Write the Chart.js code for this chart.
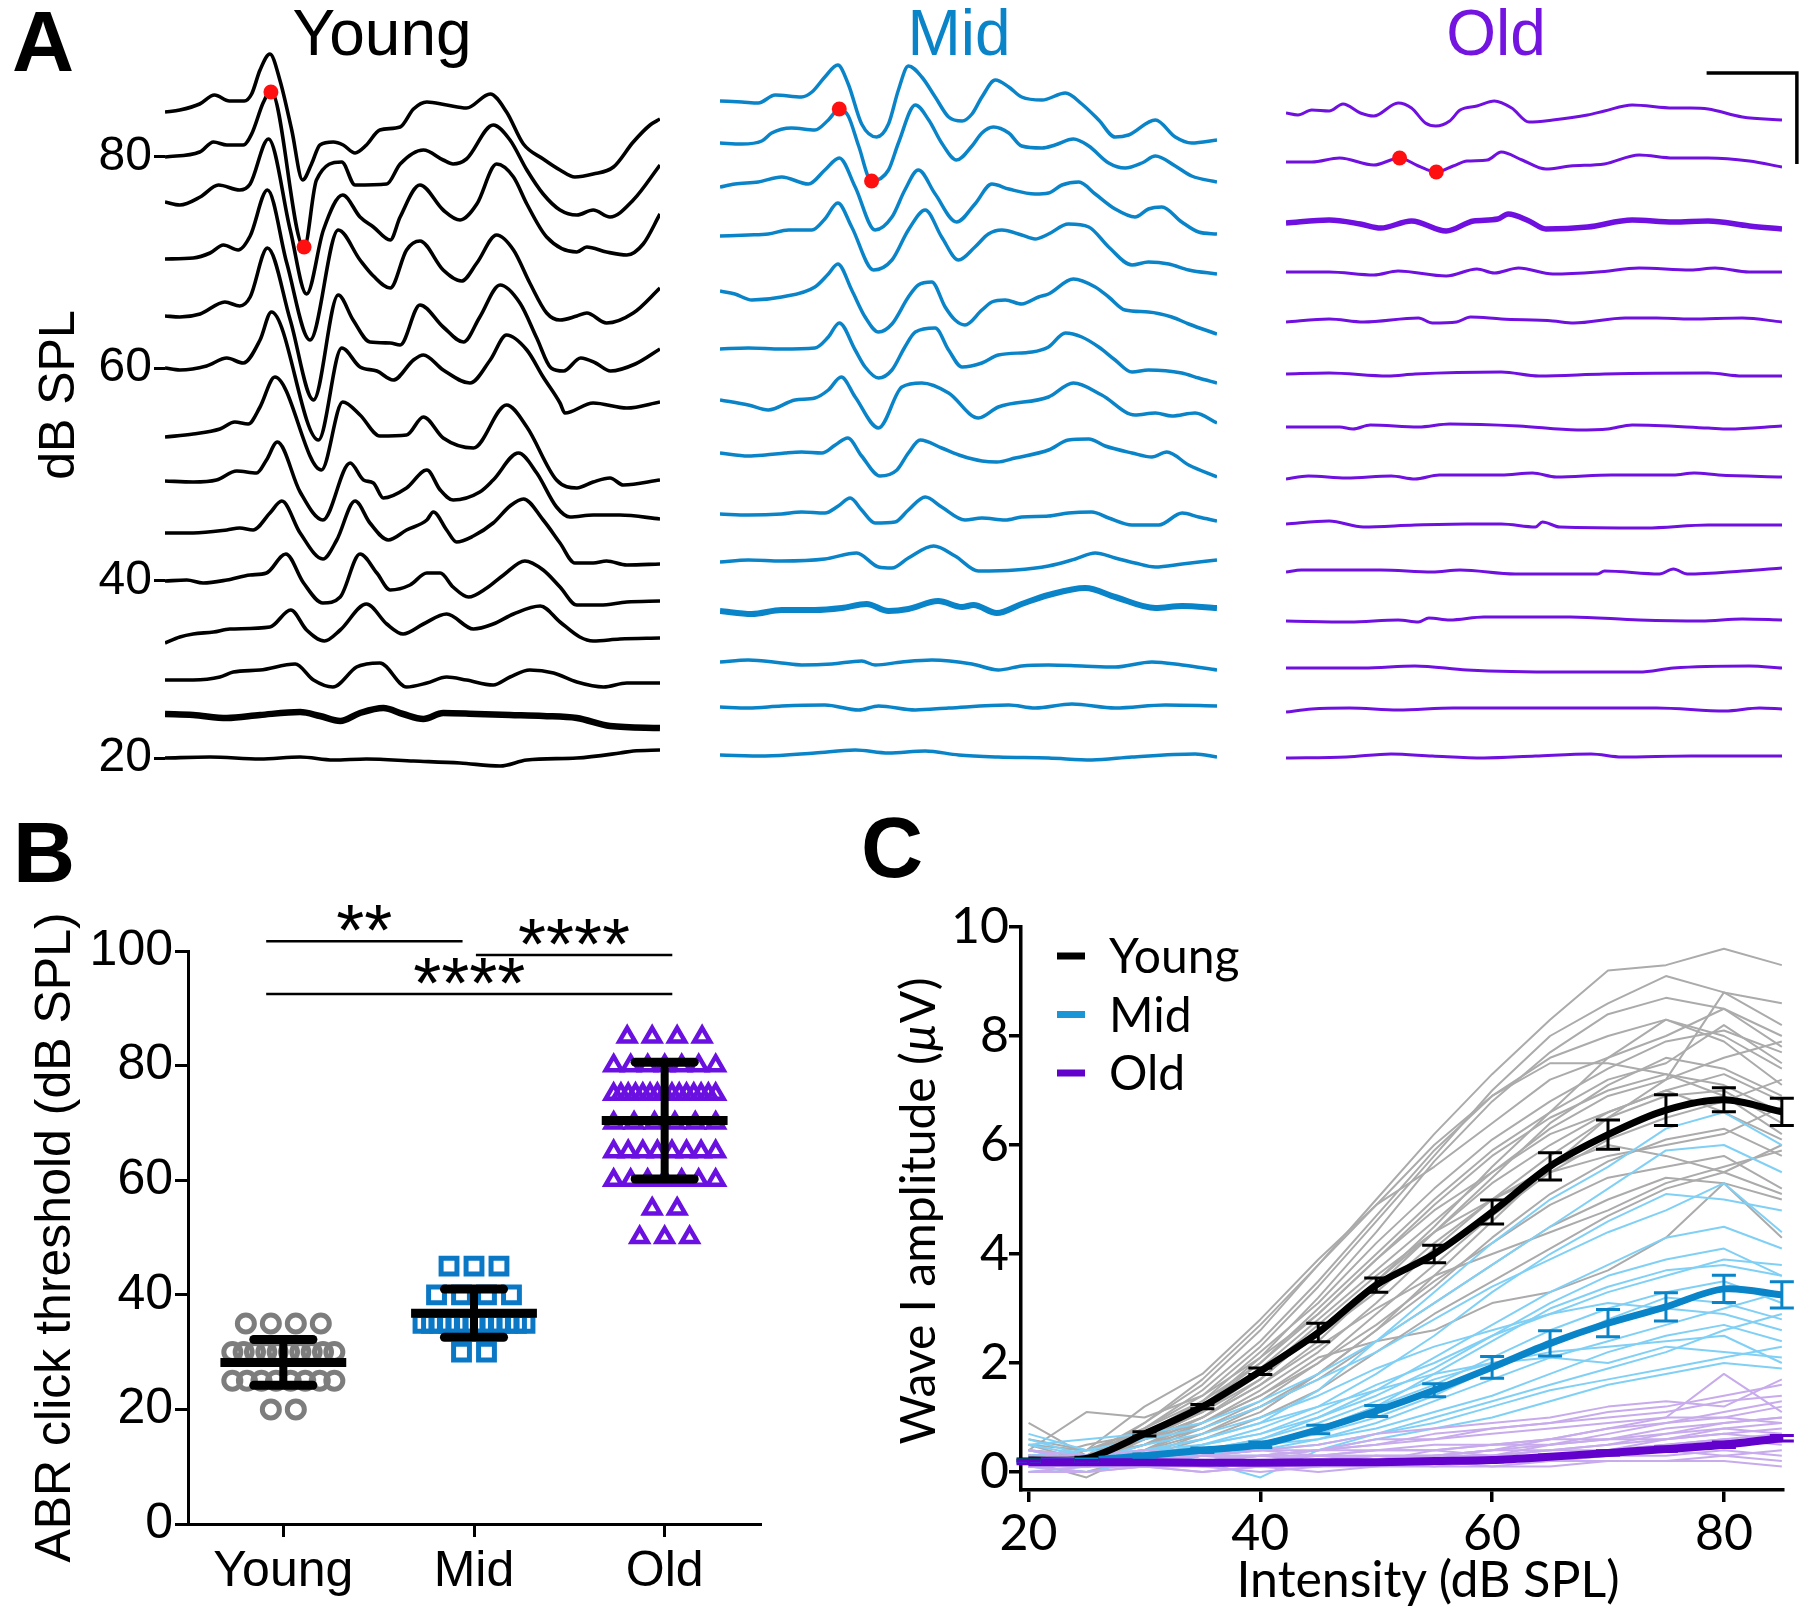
<!DOCTYPE html>
<html>
<head>
<meta charset="utf-8">
<script src="https://cdn.jsdelivr.net/npm/chart.js@4.4.1/dist/chart.umd.min.js"></script>
<style>
  body { margin:0; background:#fff; width:1800px; height:1616px; position:relative; overflow:hidden;
         font-family:'Liberation Sans', Arial, sans-serif; }
  canvas { position:absolute; }
  .lbl { position:absolute; white-space:nowrap; line-height:1; }
  .panel { font-weight:bold; font-size:86px; }
  .ttl { font-size:64px; width:300px; text-align:center; }
  .cfont { font-family:Lato, 'Open Sans', sans-serif; }
</style>
</head>
<body>
<canvas id="young" width="670" height="790" style="left:0;top:0"></canvas>
<canvas id="mid" width="530" height="790" style="left:700px;top:0"></canvas>
<canvas id="old" width="530" height="790" style="left:1270px;top:0"></canvas>
<canvas id="thr" width="800" height="816" style="left:0;top:800px"></canvas>
<canvas id="amp" width="960" height="816" style="left:840px;top:800px"></canvas>

<div class="lbl panel" style="left:12px;top:-2px">A</div>
<div class="lbl panel" style="left:13px;top:809px">B</div>
<div class="lbl panel" style="left:861px;top:804px">C</div>
<div class="lbl ttl" style="left:232px;top:1px;color:#000">Young</div>
<div class="lbl ttl" style="left:809px;top:1px;color:#0a84c8">Mid</div>
<div class="lbl ttl" style="left:1346px;top:1px;color:#7414e0">Old</div>
<div class="lbl cfont" style="left:1128px;top:1553px;width:600px;text-align:center;font-size:50px">Intensity (dB SPL)</div>
<div class="lbl cfont" style="left:617px;top:1183px;width:600px;height:56px;line-height:56px;text-align:center;font-size:48px;transform:rotate(-90deg)">Wave I amplitude (<i>µ</i>V)</div>

<script>
// ===== PANEL A : ABR WAVEFORMS =====
const levels = [85, 80, 75, 70, 65, 60, 55, 50, 45, 40, 35, 30, 25, 20];
const tickLevels = [80, 60, 40, 20];
const thresholds = {young: 25, mid: 35, old: 75};

// stack offset of each trace (baseline of the sweep)
const youngOffsets = [112, 157, 202, 259, 316, 368, 437, 481, 533, 581, 643, 680, 714, 758];
const midOffsets   = [101, 143, 187, 236, 291, 349, 400, 453, 514, 562, 611, 662, 707, 755];
const oldOffsets   = [113, 162, 223, 272, 322, 374, 427, 479, 524, 572, 621, 668, 712, 758];

// traces: [time (% of sweep), amplitude (a.u.)], one per level
const youngTraces = [
  [[0,0],[3,2],[7,8],[10,17],[13,11],[16,11],[17.5,18],[19.2,42],[21.2,58],[23.2,32],[25.6,-18],[27.8,-68],[29.6,-52],[31.3,-33],[34,-30],[36,-33],[38.4,-41],[40.7,-33],[43.4,-18],[47.5,-15],[50.2,3],[52.9,10],[56.9,7],[60.9,4],[65.7,18],[69,0],[72.4,-32],[76.4,-47],[79.8,-58],[82.8,-65],[86.5,-62],[90.6,-55],[94.6,-30],[98,-13],[100,-7]],
  [[0,0],[7,5],[9.8,15],[12.5,12],[15.8,12],[17.5,23],[19.9,55],[21.4,66],[28.1,-91],[30.6,-23],[35.7,-5],[38.4,-28],[44.8,-27],[47.5,-7],[52.2,7],[56.2,-3],[58.2,-7],[60.9,-2],[66.3,32],[69.7,17],[73.1,-13],[76.4,-37],[79.8,-53],[83.2,-58],[86.5,-53],[89.9,-60],[94.6,-43],[100,-8]],
  [[0,0],[3,-3],[7.1,5],[10.8,17],[15.1,12],[17.2,18],[20.9,63],[25.3,-28],[28.6,-92],[32,-28],[35.9,7],[39.4,-15],[42.1,-25],[45.5,-38],[47.5,-15],[51.5,17],[56.2,-8],[59.6,-18],[63,-2],[67,38],[70.4,25],[73.1,-2],[77.1,-35],[83.2,-50],[85.2,-45],[89.2,-50],[93.3,-53],[96.6,-42],[100,-12]],
  [[0,0],[5.7,1],[9.1,6],[11.8,14],[14.8,9],[17.2,23],[20.7,69],[24.6,-4],[29.3,-81],[35,29],[39.4,-1],[42.1,-17],[45.5,-29],[48.8,9],[51.5,18],[56.2,-11],[59.9,-22],[63,-4],[67,24],[70.4,9],[73.7,-24],[77.1,-54],[79.8,-61],[83.2,-57],[85.2,-54],[89.2,-64],[94.6,-54],[100,-29]],
  [[0,0],[3,-1],[7.1,2],[12.1,14],[15.1,10],[17.2,19],[20.7,68],[25.3,-4],[30,-84],[35,21],[38,-4],[41.4,-26],[45.5,-27],[47.5,-29],[51.5,11],[56.2,-11],[60.3,-26],[63.6,-1],[67.7,31],[71.7,13],[75.1,-22],[78,-52],[80.5,-55],[84,-42],[87,-47],[90,-55],[95,-48],[100,-33]],
  [[0,0],[3,-2],[8.4,2],[12.5,10],[15.8,5],[19.2,28],[21.5,56],[31,-72],[35.7,20],[39.4,1],[42.8,-3],[46.1,-12],[50.2,8],[52.2,13],[56.2,-2],[61.6,-15],[65.7,8],[69,33],[73.1,18],[76.4,-9],[79.8,-35],[80.8,-45],[86.5,-35],[93.3,-40],[100,-34]],
  [[0,0],[5.7,3],[11.1,8],[14.1,15],[16.8,13],[19.2,30],[22.2,60],[31.6,-33],[35.9,35],[39.4,22],[43.4,1],[48.8,2],[52.2,20],[56.2,-1],[62.3,-11],[69,32],[73.1,10],[79.1,-43],[83.2,-51],[86.5,-45],[89.9,-41],[92.6,-48],[100,-43]],
  [[0,0],[5.7,-1],[10.4,1],[14.5,10],[18.5,8],[20.5,21],[22.7,39],[27.3,-11],[31.9,-39],[37.4,18],[40.1,1],[42.1,-2],[44.1,-17],[48.8,-7],[52.9,11],[55.6,-9],[58.2,-19],[63.6,-11],[66.3,1],[71.4,28],[75.1,8],[79.1,-26],[81.8,-36],[86.5,-34],[91.9,-34],[100,-38]],
  [[0,0],[5.7,0],[12.5,3],[15.1,5],[17.8,3],[21.2,20],[23.6,32],[27.3,0],[31.9,-26],[34.7,-7],[38.4,32],[41.4,10],[45.1,-7],[48.8,3],[52.9,13],[54.2,21],[56.9,3],[58.9,-9],[62.3,-3],[66.3,10],[69.7,27],[72.4,34],[76.4,13],[79.8,-10],[82.8,-30],[86.5,-30],[89.2,-28],[93.3,-32],[100,-31]],
  [[0,0],[4.4,1],[7.7,-2],[12.5,1],[17.2,6],[20.5,8],[24.4,27],[28,-2],[31.9,-22],[35.4,-16],[39.4,27],[42.8,8],[45.5,-9],[49.5,-4],[52.9,8],[55.6,8],[58.2,-6],[61.3,-16],[65,-7],[68.4,6],[72.7,20],[76.4,11],[79.8,-6],[83.2,-24],[87.9,-24],[93.3,-21],[100,-20]],
  [[0,0],[3,6],[5.7,9],[9.8,11],[13.1,14],[21.2,16],[25.4,33],[28.6,13],[32.2,2],[35.4,13],[40.7,39],[44.8,19],[48.1,9],[52.2,19],[56.9,29],[62.3,14],[66.3,19],[70.4,29],[75.8,37],[79.8,21],[83.8,6],[86.5,2],[91.9,4],[100,5]],
  [[0,0],[5.7,0],[11.1,3],[13.8,8],[19.2,10],[26.3,16],[30,0],[33.9,-7],[38.7,13],[40.7,16],[43.4,17],[48.8,-7],[52.9,-3],[56.9,3],[60.9,0],[66.3,-5],[69.7,3],[73.7,10],[78.5,7],[83.2,-2],[88.6,-7],[93.3,-3],[100,-3]],
  [[0,0],[5.7,-1],[12.5,-4],[19.2,-1],[27.3,2],[31.3,-2],[35.4,-7],[39.4,1],[44.1,6],[48.1,0],[52.2,-5],[56.2,1],[63,0],[69.7,-1],[76.4,-2],[83.2,-4],[89.9,-12],[100,-14]],
  [[0,0],[9.1,1],[19.2,-1],[27.3,1],[34,-2],[40.7,-1],[50.2,-3],[59.6,-5],[67.7,-8],[73.1,-2],[83.2,0],[91.9,5],[94.6,7],[100,8]]
];
const midTraces = [
  [[0,0],[4.4,-1],[7.7,-2],[11.1,6],[16.4,4],[18.5,9],[21.1,24],[23.7,36],[25.8,17],[28.5,-23],[31.5,-36],[33.9,-23],[35.9,11],[37.9,35],[40.6,24],[43.3,4],[46,-16],[48.7,-20],[50.7,-13],[52.7,4],[55.4,21],[58.1,14],[60.7,4],[64.8,1],[69.5,8],[72.8,-3],[76.2,-19],[79.5,-36],[82.2,-34],[87.6,-19],[91.6,-36],[94.9,-42],[100,-39]],
  [[0,0],[4.4,-1],[8.4,2],[10.4,10],[14.4,15],[19.1,13],[21.8,23],[24,34],[25.8,27],[27.9,-3],[30.5,-38],[33.9,-27],[35.9,0],[39.3,38],[42,23],[44.6,0],[47.6,-17],[50.7,-3],[52.7,10],[55,16],[58.1,10],[60.7,-3],[64.8,-5],[67.4,-2],[71.1,4],[74.2,-3],[78.2,-20],[81.5,-25],[84.9,-20],[87.6,-13],[91.6,-23],[94.9,-33],[100,-39]],
  [[0,0],[3,3],[7.7,5],[12.4,10],[17.8,3],[21.1,17],[24,29],[27.2,0],[31.2,-43],[34.6,-30],[37.2,-3],[39.9,17],[43.3,-7],[47.6,-35],[51.3,-17],[54.7,3],[58.1,-2],[63.4,-7],[66.1,-6],[68.8,2],[72.2,5],[75.5,-7],[79.5,-22],[83.5,-30],[86.2,-22],[88.9,-20],[92.9,-35],[96.3,-45],[100,-47]],
  [[0,0],[5.7,1],[9.7,2],[13.8,6],[18.5,6],[21.1,17],[23.7,33],[26.5,9],[30.9,-34],[34.6,-24],[37.9,6],[41.3,26],[44.6,-1],[48,-24],[51.3,-11],[54,2],[56.7,6],[60.7,1],[63.4,-3],[66.1,2],[70.1,12],[74.2,9],[78.2,-11],[82.9,-29],[86.2,-26],[90.3,-28],[94.3,-34],[100,-38]],
  [[0,0],[3,-3],[6.4,-9],[12.4,-6],[19.1,4],[21.8,17],[23.7,27],[26.5,1],[29.2,-26],[31.9,-41],[34.6,-33],[37.9,-6],[39.9,6],[42.6,9],[45.3,-16],[47.3,-29],[49.3,-34],[52.7,-19],[54.7,-11],[57.4,-9],[60.7,-13],[64.1,-6],[66.1,-3],[71.1,12],[75.5,4],[78.2,-6],[81.5,-19],[86.2,-21],[90.9,-26],[94.3,-33],[100,-43]],
  [[0,0],[5.7,1],[12.4,0],[19.1,1],[21.8,12],[24,26],[27.2,-1],[29.2,-18],[31.9,-29],[34.6,-21],[37.2,2],[39.3,17],[43.3,21],[46,-1],[48.7,-18],[52.7,-14],[56,-6],[62.8,-3],[66.1,2],[69.5,16],[72.8,12],[76.2,2],[79.5,-11],[82.9,-23],[86.2,-21],[92.9,-24],[96.3,-29],[100,-34]],
  [[0,0],[5.7,-5],[9.7,-10],[15.1,0],[19.1,2],[21.8,10],[24.4,23],[27.2,3],[31.9,-28],[36.6,13],[40.6,17],[46,7],[52,-18],[56,-7],[66.1,3],[71.1,17],[76.8,5],[83.5,-15],[87.6,-13],[90.9,-16],[95.6,-13],[100,-23]],
  [[0,0],[5.7,-3],[9.1,-2],[13.1,0],[16.4,1],[20.5,0],[23.2,8],[25.7,15],[28.5,-3],[32.2,-23],[35.6,-17],[37.9,0],[40.3,13],[44.6,5],[48.7,-3],[52.7,-8],[55.7,-9],[59.4,-5],[66.1,3],[70.1,13],[74.2,14],[77.5,7],[82.9,0],[86.9,-4],[89.9,1],[94.3,-12],[100,-24]],
  [[0,0],[5.7,-1],[12.4,0],[16.4,2],[21.1,1],[23.8,8],[26.2,16],[28.5,4],[31.2,-9],[35.2,-8],[37.9,4],[41.3,17],[44.6,7],[49.3,-6],[52.7,-4],[57.4,-6],[60.7,-3],[66.1,-2],[70.1,1],[74.8,2],[78.2,-4],[82.9,-11],[88.3,-11],[93,1],[96.3,-3],[100,-7]],
  [[0,0],[5.7,2],[12.4,1],[21.1,3],[27.5,9],[31.9,-5],[34.6,-6],[37.9,4],[43,16],[47.3,6],[52,-9],[59.4,-8],[66.1,-4],[71.5,3],[75.5,9],[79.5,4],[83.5,-1],[87.6,-5],[93,-2],[100,2]],
  [[0,0],[6.4,-3],[12.4,1],[19.1,1],[24.5,3],[29.5,7],[33.9,0],[37.9,2],[43.9,10],[48.7,4],[51,6],[55.7,-2],[60.7,7],[66.1,16],[73.5,23],[79.5,14],[87.6,3],[93,5],[100,3]],
  [[0,0],[5.7,2],[12.4,-1],[16.4,-3],[22.5,-2],[28.5,1],[31.2,-3],[36.6,0],[42.6,2],[50.7,-2],[56,-8],[60.7,-4],[66.1,-3],[72.8,-4],[79.5,-5],[86.9,0],[93,-3],[100,-8]],
  [[0,0],[5.7,-1],[12.4,1],[21.1,2],[27.9,-3],[31.9,1],[39.3,-3],[46,-1],[58.1,2],[63.4,-1],[70.8,3],[79.5,-1],[89.6,2],[100,1]],
  [[0,0],[9.1,-1],[19.1,2],[27.2,5],[33.9,2],[41.3,4],[48,0],[56,-2],[66.1,-3],[74.8,-5],[82.9,-2],[95.6,1],[100,-2]]
];
const oldTraces = [
  [[0,0],[2.4,-2],[5.2,3],[8.7,2],[11.5,9],[15,0],[17.7,-3],[22.6,10],[25.3,5],[28.1,-10],[30.2,-13],[33,-8],[35.1,3],[38.5,7],[42,12],[45.5,5],[49,-9],[53.8,-7],[60.8,-2],[64.2,2],[69.8,8],[78.1,5],[81.6,5],[85.1,4],[92,-4],[100,-7]],
  [[0,0],[5.2,0],[10.8,4],[17.7,-3],[22.9,4],[26.7,-4],[30.3,-10],[33.7,-4],[36.5,1],[40.6,2],[43.4,10],[47.6,2],[52.4,-7],[57.3,-4],[64.2,-2],[71.2,7],[78.1,4],[85.1,4],[93.4,1],[100,-5]],
  [[0,0],[8.7,3],[15,-1],[19.1,-5],[25.3,2],[32.3,-8],[37.8,2],[42.7,4],[44.8,9],[49,2],[52.4,-6],[60.8,-4],[69.8,3],[78.1,1],[85.1,2],[93.4,-3],[100,-6]],
  [[0,0],[8.7,0],[17.7,-3],[22.6,1],[32.3,-4],[38.5,3],[42,-1],[46.9,4],[53.8,-2],[62.8,0],[71.2,4],[81.6,2],[86.5,4],[93.4,0],[100,0]],
  [[0,0],[8.7,3],[15.6,0],[26.7,4],[29.5,-1],[34.4,0],[37.2,5],[43.4,3],[53.8,1],[58,-1],[68.4,4],[74.7,4],[81.6,3],[92,4],[100,0]],
  [[0,0],[8.7,1],[20.5,-2],[26,0],[43.4,2],[51,-2],[64.2,0],[85.1,1],[92,-2],[100,-2]],
  [[0,0],[10.8,0],[13.5,-2],[17,2],[26.7,0],[33,3],[46.9,1],[58.7,-3],[64.9,-2],[69.8,2],[85.1,-1],[89.2,-2],[100,1]],
  [[0,0],[4.5,3],[12.2,1],[21.2,3],[26,0],[30.9,4],[43.4,4],[49.7,6],[54.5,2],[65.6,4],[78.1,4],[82.3,6],[87.2,4],[100,2]],
  [[0,0],[8.7,3],[15.6,-3],[26,-1],[36.5,0],[43.4,0],[50.3,-3],[51.7,2],[55.2,-3],[72.6,-4],[85.1,-1],[100,-1]],
  [[0,0],[3.1,2],[19.1,2],[29.5,0],[35.1,2],[46.2,-2],[62.8,-2],[64.2,1],[75.3,-2],[78.1,3],[80.9,-2],[92,1],[100,4]],
  [[0,0],[12.8,-1],[22.6,1],[26.7,-1],[28.8,3],[33,1],[39.9,4],[57.3,4],[71.2,1],[83.7,0],[92,2],[100,1]],
  [[0,0],[15.6,0],[26,2],[36.5,-2],[55.9,-4],[71.2,-4],[78.1,0],[93.4,2],[100,0]],
  [[0,0],[5.2,3],[12.8,4],[22.6,2],[33.7,4],[43.4,4],[64.2,4],[74.7,4],[88.5,1],[95.5,4],[100,3]],
  [[0,0],[12.2,1],[21.2,4],[29.5,2],[39.9,0],[50.3,2],[61.5,4],[67.7,1],[81.6,2],[100,2]]
];
// wave I peak / trough picks on the 80 dB trace
const youngMarks = [[21.4,65],[28.1,-90]];
const midMarks   = [[24,34],[30.5,-38]];
const oldMarks   = [[22.9,4],[30.3,-10]];
// scale bar (time %, stack units), vertical arm first
const scaleBar = [[103,-164],[103,-73],[84.8,-73]];

// ===== PANEL B : THRESHOLDS =====
const groups = ['Young', 'Mid', 'Old'];
const youngThr = [35,35,35,35, 30,30,30,30,30,30,30,30,30,30, 25,25,25,25,25,25,25,25, 20,20];
const midThr = [45,45,45, 40,40,40,40, 35,35,35,35,35,35,35,35,35,35,35,35,35, 30,30];
const oldThr = [85,85,85,85, 80,80,80,80,80,80,80, 75,75,75,75,75,75,75,75,75,75,75,75,75,75,75,
                70,70,70,70,70,70, 65,65,65,65,65,65,65,65, 60,60,60,60,60,60,60, 55,55, 50,50,50];
const thrMean = [28.2, 36.8, 70.4];
const thrSD = [4.0, 4.2, 10.2];
const sigFrom = [0.91, 2.01, 0.91];
const sigTo = [1.94, 3.04, 3.04];
const sigLevel = [101.7, 99.3, 92.5];
const sigText = ['**', '****', '****'];

// ===== PANEL C : WAVE I AMPLITUDE =====
const intensities = [20,25,30,35,40,45,50,55,60,65,70,75,80,85];
const youngMean = [0.22,0.25,0.70,1.20,1.85,2.56,3.43,4.00,4.77,5.61,6.19,6.64,6.83,6.61];
const youngSem  = [0.02,0.02,0.04,0.04,0.06,0.17,0.13,0.16,0.22,0.25,0.27,0.28,0.22,0.25];
const midMean = [0.20,0.22,0.30,0.40,0.50,0.78,1.12,1.50,1.92,2.36,2.73,3.03,3.36,3.25];
const midSem  = [0.02,0.02,0.03,0.04,0.05,0.08,0.10,0.12,0.20,0.23,0.25,0.26,0.25,0.24];
const oldMean = [0.18,0.18,0.18,0.17,0.17,0.18,0.18,0.20,0.22,0.28,0.35,0.42,0.50,0.62];
const oldSem  = [0.03,0.03,0.03,0.03,0.03,0.03,0.03,0.03,0.03,0.03,0.04,0.04,0.05,0.05];
const youngIndiv = [
  [0.2,0.3,0.9,1.6,2.6,3.8,5.0,6.2,7.3,8.3,9.2,9.3,9.6,9.3],
  [0.3,0.2,0.8,1.4,2.3,3.4,4.6,5.8,7.0,8.0,8.6,9.1,8.8,8.2],
  [0.5,0.4,1.2,1.8,2.8,3.9,4.9,5.6,6.4,7.2,7.6,8.0,8.5,7.8],
  [0.2,0.1,0.7,1.3,2.0,3.0,4.0,5.0,5.9,6.6,7.2,7.5,8.2,7.5],
  [0.9,0.3,0.6,1.1,1.9,2.8,3.7,4.6,5.5,6.3,6.9,7.2,7.6,7.9],
  [0.1,0.2,0.5,1.0,1.7,2.6,3.5,4.4,5.3,6.0,6.6,7.0,7.3,6.8],
  [0.4,1.1,1.0,1.4,2.1,2.9,3.9,4.8,5.5,6.2,6.6,7.0,6.6,6.1],
  [0.2,0.3,0.6,0.9,1.5,2.2,3.1,4.1,5.0,5.8,6.5,6.9,7.0,6.4],
  [0.3,0.2,0.4,0.8,1.3,2.0,2.9,3.8,4.7,5.5,6.1,6.5,6.8,7.2],
  [0.1,0.0,0.3,0.7,1.1,1.8,2.6,3.4,4.3,5.1,5.7,6.1,6.3,5.8],
  [0.6,0.4,0.7,1.2,1.8,2.5,3.3,4.2,5.0,5.6,6.0,5.8,5.5,5.1],
  [0.2,-0.1,0.4,0.9,1.4,2.0,2.7,3.5,4.2,4.9,5.4,5.6,5.8,5.2],
  [0.3,0.3,0.5,0.8,1.2,1.7,2.4,3.1,3.8,4.5,5.0,5.4,5.3,5.0],
  [0.1,0.2,0.3,0.6,1.0,1.5,2.2,2.9,3.5,4.1,4.7,5.2,5.5,6.0],
  [0.4,0.3,0.6,1.0,1.6,2.4,3.4,4.4,5.4,6.4,7.1,7.6,7.4,6.9],
  [0.2,0.4,0.8,1.5,2.4,3.5,4.7,5.9,6.9,7.6,8.0,8.3,8.0,7.4],
  [0.3,0.2,0.5,0.9,1.4,2.1,2.4,2.6,3.1,3.3,3.7,4.3,5.3,4.3],
  [0.1,0.2,0.4,0.7,1.2,1.8,2.6,3.6,4.6,5.6,6.5,7.2,8.8,8.6],
  [0.2,0.1,0.6,1.1,1.8,2.7,3.6,4.4,5.0,5.5,5.8,6.0,6.2,6.7],
  [0.5,0.2,0.9,1.7,2.7,3.8,4.9,6.0,6.9,7.5,7.5,7.3,7.1,6.6],
  [0.3,0.4,0.6,1.0,1.6,2.3,3.0,3.6,4.0,4.4,4.8,5.3,5.6,5.9],
  [0.2,0.3,0.7,1.2,2.0,2.9,3.9,4.9,5.8,6.5,7.0,7.3,6.9,6.2],
  [0.3,0.2,0.6,1.2,2.1,3.2,4.4,5.7,6.8,7.7,8.4,8.7,8.5,8.0],
  [0.4,0.3,0.8,1.3,2.2,3.1,4.2,5.2,6.1,6.8,7.4,7.9,8.1,7.7],
  [0.2,0.5,0.7,1.1,1.7,2.6,3.5,4.5,5.6,6.6,7.6,8.3,7.9,7.1]
];
const midIndiv = [
  [0.6,0.3,0.4,0.6,0.9,1.5,2.4,3.3,4.2,5.0,5.6,6.3,6.6,6.0],
  [0.2,0.2,0.3,0.5,0.8,1.2,1.8,2.5,3.3,4.0,4.6,5.1,5.0,4.8],
  [0.3,0.1,0.2,0.4,0.6,1.0,1.5,2.1,2.7,3.3,3.8,4.3,4.5,4.1],
  [0.7,0.4,0.3,0.5,0.7,1.1,1.6,2.0,2.5,2.9,3.3,3.6,3.9,3.8],
  [0.2,0.3,0.4,0.4,0.5,0.8,1.2,1.6,2.1,2.6,3.0,3.3,3.5,3.1],
  [0.1,0.0,0.2,0.3,0.5,0.7,1.0,1.4,1.9,2.3,2.8,3.2,3.1,2.8],
  [0.4,0.2,0.5,0.7,1.0,1.4,1.9,2.3,2.6,2.9,3.1,3.0,2.9,2.6],
  [0.3,0.3,0.3,0.4,0.4,0.6,0.9,1.3,1.7,2.1,2.4,2.7,3.0,3.3],
  [0.2,0.1,0.1,0.3,0.5,0.6,0.8,1.1,1.4,1.8,2.2,2.5,2.7,2.4],
  [0.5,0.3,0.4,0.6,0.9,1.2,1.5,1.8,2.0,2.2,2.3,2.4,2.5,2.0],
  [0.1,0.2,0.2,0.2,-0.1,0.4,0.7,1.0,1.3,1.6,1.9,2.2,2.6,2.9],
  [0.3,0.2,0.3,0.4,0.6,0.9,1.3,1.7,2.0,2.1,2.0,2.3,2.2,2.1],
  [0.2,0.3,0.4,0.5,0.7,1.0,1.4,1.9,2.5,3.1,3.6,3.9,4.1,3.6],
  [0.4,0.2,0.2,0.3,0.4,0.5,0.7,0.9,1.2,1.5,1.7,1.9,2.1,2.3],
  [0.0,0.1,0.2,0.3,0.5,0.8,1.2,1.8,2.4,3.0,3.4,3.7,3.8,3.6],
  [0.3,0.4,0.6,0.8,1.2,1.7,2.2,2.8,3.4,3.9,4.4,4.8,5.3,4.4],
  [0.2,0.2,0.2,0.3,0.3,0.4,0.6,0.8,1.0,1.3,1.6,1.8,2.0,1.9],
  [0.5,0.6,0.7,0.9,1.3,1.8,2.4,3.1,3.8,4.5,5.2,5.9,6.0,5.5]
];
const oldIndiv = [
  [0.2,0.1,0.2,0.1,0.2,0.2,0.3,0.3,0.4,0.5,0.7,0.9,1.1,1.3],
  [0.3,0.2,0.3,0.2,0.3,0.3,0.2,0.4,0.3,0.5,0.6,0.7,0.9,1.0],
  [0.1,0.2,0.1,0.2,0.1,0.2,0.2,0.3,0.3,0.4,0.5,0.6,0.8,0.7],
  [0.2,0.3,0.2,0.3,0.3,0.4,0.5,0.6,0.8,0.9,1.1,1.2,1.4,1.6],
  [0.0,0.1,0.1,0.0,0.1,0.1,0.2,0.1,0.2,0.2,0.3,0.3,0.4,0.3],
  [0.4,0.3,0.2,0.3,0.4,0.3,0.4,0.5,0.5,0.6,0.8,1.0,1.8,1.1],
  [0.2,0.2,0.3,0.2,0.2,0.3,0.3,0.2,0.3,0.3,0.4,0.4,0.5,0.6],
  [0.1,0.0,0.1,0.1,0.0,0.1,0.1,0.2,0.1,0.2,0.2,0.2,0.3,0.2],
  [0.3,0.2,0.2,0.3,0.4,0.5,0.7,0.8,0.9,1.0,1.2,1.3,1.2,1.7],
  [0.2,0.1,0.2,0.2,0.2,0.2,0.3,0.3,0.4,0.4,0.5,0.7,0.8,0.9],
  [0.1,0.2,0.2,0.1,0.2,0.2,0.2,0.3,0.3,0.3,0.4,0.5,0.6,0.5],
  [0.3,0.3,0.4,0.3,0.3,0.4,0.4,0.4,0.5,0.5,0.6,0.6,0.7,0.8],
  [0.0,0.0,0.1,0.0,0.1,0.0,0.1,0.1,0.1,0.1,0.2,0.2,0.2,0.1],
  [0.2,0.1,0.2,0.2,0.3,0.2,0.3,0.3,0.4,0.6,0.8,0.9,1.0,1.2],
  [0.1,0.2,0.1,0.2,0.2,0.1,0.2,0.2,0.3,0.2,0.3,0.4,0.3,0.4],
  [0.2,0.2,0.3,0.3,0.2,0.3,0.4,0.4,0.5,0.6,0.6,0.8,0.9,1.0],
  [0.4,0.2,0.2,0.2,0.1,0.2,0.2,0.3,0.2,0.3,0.4,0.5,0.6,0.7],
  [0.1,0.1,0.2,0.2,0.3,0.3,0.3,0.2,0.3,0.4,0.4,0.6,0.7,0.6],
  [0.2,0.3,0.2,0.3,0.4,0.4,0.5,0.7,0.8,0.9,1.0,1.1,1.3,1.4],
  [0.3,0.2,0.1,0.2,0.3,0.4,0.6,0.6,0.7,0.8,0.9,1.0,1.0,0.9]
];

// ===== COMMON =====
const FONT_AB = "'Liberation Sans', Arial, sans-serif";
const FONT_C = "Lato, 'Open Sans', sans-serif";
Chart.defaults.font.family = FONT_AB;
Chart.defaults.color = '#000';
Chart.defaults.animation = false;
Chart.defaults.plugins.legend.display = false;
Chart.defaults.plugins.tooltip.enabled = false;

// ===== PANEL A =====
function waveChart(id, traces, offsets, threshold, color, widths, marks, yScale, pad, extra){
  const datasets = traces.map((tr, i) => ({
    type: 'line',
    data: tr.map(p => ({x: p[0], y: p[1] - offsets[i]})),
    borderColor: color,
    borderWidth: levels[i] === threshold ? widths[1] : widths[0],
    pointRadius: 0,
    cubicInterpolationMode: 'monotone',
    order: 2
  }));
  datasets.push({
    type: 'scatter',
    data: marks.map(p => ({x: p[0], y: p[1] - offsets[1]})),
    backgroundColor: '#ff1010', borderWidth: 0, pointRadius: 7.5, order: 0
  });
  if(extra) datasets.push(extra);
  return new Chart(document.getElementById(id), {
    type: 'line',
    data: {datasets},
    options: {
      responsive: false,
      layout: {padding: pad, autoPadding: false},
      scales: {
        x: {type: 'linear', min: 0, max: 100, display: false},
        y: yScale
      }
    }
  });
}

waveChart('young', youngTraces, youngOffsets, thresholds.young, '#000', [3.6, 6.5], youngMarks, {
  min: -790, max: 0,
  afterBuildTicks: s => { s.ticks = tickLevels.map(l => ({value: -youngOffsets[levels.indexOf(l)]})); },
  afterFit: s => { s.width = 165; s.paddingTop = 0; s.paddingBottom = 0; },
  ticks: {
    autoSkip: false, padding: 2, color: '#000',
    font: {size: 48},
    callback: v => levels[youngOffsets.indexOf(-v)]
  },
  grid: {drawOnChartArea: false, drawTicks: true, tickLength: 11, color: '#000', lineWidth: 3},
  border: {display: false},
  title: {display: true, text: 'dB SPL', font: {size: 50}, color: '#000', padding: {top: 30}}
}, {left: 0, right: 10, top: 0, bottom: 0});

waveChart('mid', midTraces, midOffsets, thresholds.mid, '#0a84c8', [3.5, 6], midMarks,
  {min: -790, max: 0, display: false}, {left: 20, right: 13, top: 0, bottom: 0});

waveChart('old', oldTraces, oldOffsets, thresholds.old, '#7010e0', [3, 5.5], oldMarks,
  {min: -790, max: 0, display: false}, {left: 16, right: 18, top: 0, bottom: 0},
  {type: 'line', data: scaleBar.map(p => ({x: p[0], y: p[1]})), borderColor: '#000',
   borderWidth: 3.5, pointRadius: 0, clip: false, spanGaps: true, order: 1});

// ===== PANEL B =====
function swarm(values, center){
  const counts = {}, seen = {};
  values.forEach(v => counts[v] = (counts[v] || 0) + 1);
  return values.map(v => {
    const n = counts[v];
    const k = seen[v] = (seen[v] === undefined ? 0 : seen[v] + 1);
    const step = n > 1 ? Math.min(0.131, 0.535 / (n - 1)) : 0;
    return {x: center + (k - (n - 1) / 2) * step, y: v};
  });
}
const thrData = [youngThr, midThr, oldThr];
const bColors = ['#7d7d7d', '#0b78c6', '#6a10e0'];
const bStyles = ['circle', 'rect', 'triangle'];
const bRadius = [8.5, 11.2, 9.2];
const bBorder = [5, 5, 4.5];
const seg = (pts, w, cap) => ({data: pts.map(p => ({x: p[0], y: p[1]})), showLine: true, borderColor: '#000',
  borderWidth: w, borderCapStyle: cap, pointRadius: 0, clip: false, order: 0});

const bSets = [];
thrMean.forEach((m, g) => {
  const c = g + 1, s = thrSD[g];
  bSets.push(seg([[c - 0.33, m], [c + 0.33, m]], 9, 'butt'));
  bSets.push(seg([[c, m - s], [c, m + s]], 8, 'butt'));
  bSets.push(seg([[c - 0.155, m + s], [c + 0.155, m + s]], 9, 'round'));
  bSets.push(seg([[c - 0.155, m - s], [c + 0.155, m - s]], 9, 'round'));
});
sigLevel.forEach((lv, i) => bSets.push(seg([[sigFrom[i], lv], [sigTo[i], lv]], 2.5, 'butt')));
thrData.forEach((vals, g) => bSets.push({
  data: swarm(vals, g + 1), pointStyle: bStyles[g], pointRadius: bRadius[g],
  borderColor: bColors[g], borderWidth: bBorder[g], backgroundColor: 'rgba(0,0,0,0)', order: 1
}));

const sigPlugin = {
  id: 'sig',
  afterDatasetsDraw(chart){
    const {ctx, scales: {x, y}} = chart;
    ctx.save();
    ctx.font = "72px " + FONT_AB;
    ctx.fillStyle = '#000';
    ctx.textAlign = 'center';
    ctx.textBaseline = 'alphabetic';
    sigText.forEach((t, i) => {
      ctx.fillText(t, x.getPixelForValue((sigFrom[i] + sigTo[i]) / 2), y.getPixelForValue(sigLevel[i]) + 14);
    });
    ctx.restore();
  }
};

new Chart(document.getElementById('thr'), {
  type: 'scatter',
  data: {datasets: bSets},
  plugins: [sigPlugin],
  options: {
    responsive: false,
    layout: {padding: {left: 0, right: 40, top: 151, bottom: 0}},
    scales: {
      x: {
        type: 'linear', min: 0.5, max: 3.5,
        afterBuildTicks: s => { s.ticks = [1, 2, 3].map(v => ({value: v})); },
        afterFit: s => { s.height = 92; },
        ticks: {autoSkip: false, maxRotation: 0, padding: 5, font: {size: 50}, color: '#000', callback: v => groups[v - 1]},
        grid: {drawOnChartArea: false, tickLength: 13, color: '#000', lineWidth: 3},
        border: {color: '#000', width: 3}
      },
      y: {
        min: 0, max: 100,
        afterBuildTicks: s => { s.ticks = [0, 20, 40, 60, 80, 100].map(v => ({value: v})); },
        afterFit: s => { s.width = 188; },
        ticks: {padding: 2, font: {size: 50}, color: '#000'},
        grid: {drawOnChartArea: false, tickLength: 13, color: '#000', lineWidth: 3},
        border: {color: '#000', width: 3},
        title: {display: true, text: 'ABR click threshold (dB SPL)', font: {size: 50}, color: '#000', padding: {top: 26}}
      }
    }
  }
});

// ===== PANEL C =====
const cLine = (vals, color, w, order, tension) => ({
  data: intensities.map((x, i) => ({x, y: vals[i]})),
  borderColor: color, borderWidth: w, pointRadius: 0, tension: tension || 0, order,
  borderJoinStyle: 'round'
});
const meanColors = ['#000000', '#0a84c8', '#6200cc'];
const cSets = [];
youngIndiv.forEach(v => cSets.push(cLine(v, '#ababab', 2, 6)));
midIndiv.forEach(v => cSets.push(cLine(v, '#80d0f6', 2, 5)));
oldIndiv.forEach(v => cSets.push(cLine(v, '#c8abec', 2, 4)));
cSets.push(cLine(youngMean, meanColors[0], 7, 3, 0.3));
cSets.push(cLine(midMean, meanColors[1], 7, 2, 0.3));
cSets.push(cLine(oldMean, meanColors[2], 8, 1, 0.3));

const cMeans = [youngMean, midMean, oldMean];
const cSems = [youngSem, midSem, oldSem];
const cNames = ['Young', 'Mid', 'Old'];

const errPlugin = {
  id: 'err',
  afterDatasetsDraw(chart){
    const {ctx, scales: {x, y}, chartArea} = chart;
    ctx.save();
    cMeans.forEach((mean, g) => {
      ctx.strokeStyle = meanColors[g];
      ctx.lineWidth = 3;
      intensities.forEach((v, i) => {
        const px = x.getPixelForValue(v);
        const top = y.getPixelForValue(mean[i] + cSems[g][i]);
        const bot = y.getPixelForValue(mean[i] - cSems[g][i]);
        ctx.beginPath();
        ctx.moveTo(px, top); ctx.lineTo(px, bot);
        ctx.moveTo(px - 12, top); ctx.lineTo(px + 12, top);
        ctx.moveTo(px - 12, bot); ctx.lineTo(px + 12, bot);
        ctx.stroke();
      });
    });
    // legend
    ctx.font = "48px " + FONT_C;
    ctx.textBaseline = 'middle';
    ctx.textAlign = 'left';
    cNames.forEach((n, g) => {
      const ly = chartArea.top + 29 + g * 58.5;
      ctx.strokeStyle = g === 1 ? '#1a96d6' : meanColors[g];
      ctx.lineWidth = 7;
      ctx.beginPath();
      ctx.moveTo(chartArea.left + 36, ly); ctx.lineTo(chartArea.left + 64, ly);
      ctx.stroke();
      ctx.fillStyle = '#000';
      ctx.fillText(n, chartArea.left + 88, ly + 2);
    });
    ctx.restore();
  }
};

new Chart(document.getElementById('amp'), {
  type: 'line',
  data: {datasets: cSets},
  plugins: [errPlugin],
  options: {
    responsive: false,
    layout: {padding: {left: 0, right: 17, top: 127, bottom: 0}},
    scales: {
      x: {
        type: 'linear', min: 19.35, max: 85.1,
        afterBuildTicks: s => { s.ticks = [20, 40, 60, 80].map(v => ({value: v})); },
        afterFit: s => { s.height = 126; },
        ticks: {autoSkip: false, maxRotation: 0, padding: 2, font: {size: 50, family: FONT_C}, color: '#000'},
        grid: {drawOnChartArea: false, tickLength: 12, color: '#000', lineWidth: 3.5},
        border: {color: '#000', width: 3.5}
      },
      y: {
        min: -0.33, max: 10,
        afterBuildTicks: s => { s.ticks = [0, 2, 4, 6, 8, 10].map(v => ({value: v})); },
        afterFit: s => { s.width = 181; },
        ticks: {padding: 0, font: {size: 50, family: FONT_C}, color: '#000'},
        grid: {drawOnChartArea: false, tickLength: 12, color: '#000', lineWidth: 3.5},
        border: {color: '#000', width: 3.5}
      }
    }
  }
});
</script>
</body>
</html>
